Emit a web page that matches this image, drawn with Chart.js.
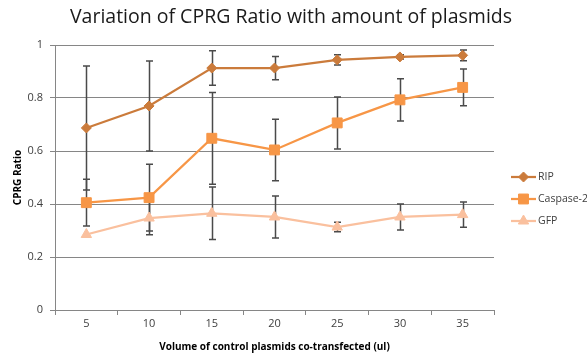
<!DOCTYPE html>
<html>
<head>
<meta charset="utf-8">
<script src="https://cdn.jsdelivr.net/npm/chart.js@4"></script>
<style>
  html, body { margin: 0; padding: 0; background: #fff; }
  #wrap { width: 587px; height: 353px; }
</style>
</head>
<body>
<div id="wrap"><canvas id="chart" width="587" height="353"></canvas></div>
<script>
// categories (volume, ul)
const volumes = ['5', '10', '15', '20', '25', '30', '35'];

// mean CPRG ratio per series
const ripValues = [0.687, 0.770, 0.913, 0.913, 0.944, 0.955, 0.961];
const caspaseValues = [0.405, 0.424, 0.648, 0.604, 0.706, 0.793, 0.840];
const gfpValues = [0.285, 0.347, 0.365, 0.351, 0.313, 0.351, 0.360];

// +/- error per point
const ripErrors = [0.234, 0.170, 0.065, 0.044, 0.019, 0.008, 0.020];
const caspaseErrors = [0.088, 0.126, 0.173, 0.116, 0.098, 0.080, 0.069];
const gfpErrors = [0, 0.063, 0.099, 0.079, 0.018, 0.049, 0.048];

const yTicks = [0, 0.2, 0.4, 0.6, 0.8, 1];

const seriesNames = ['RIP', 'Caspase-2', 'GFP'];
const seriesColors = ['#CB7B3B', '#F79646', '#FAC09E'];
const seriesMarkers = ['rectRot', 'rect', 'triangle'];
const seriesRadius = [5, 7, 6];

const chartTitle = 'Variation of CPRG Ratio with amount of plasmids';
const FONT = "'Open Sans', 'Liberation Sans', sans-serif";
const errorSets = [ripErrors, caspaseErrors, gfpErrors];

// error bars, drawn behind the series
const errorBarPlugin = {
  id: 'errorBars',
  beforeDatasetsDraw(chart) {
    const ctx = chart.ctx;
    const xs = chart.scales.x;
    const ys = chart.scales.y;
    ctx.save();
    ctx.strokeStyle = '#4a4a4a';
    ctx.lineWidth = 1.5;
    chart.data.datasets.forEach((ds, i) => {
      const errs = errorSets[i];
      ds.data.forEach((v, j) => {
        const e = errs[j];
        if (!e) return;
        const x = Math.round(xs.getPixelForValue(j)) + 0.5;
        const top = ys.getPixelForValue(v + e);
        const bot = ys.getPixelForValue(v - e);
        ctx.beginPath();
        ctx.moveTo(x, top); ctx.lineTo(x, bot);
        ctx.moveTo(x - 3.5, top); ctx.lineTo(x + 3.5, top);
        ctx.moveTo(x - 3.5, bot); ctx.lineTo(x + 3.5, bot);
        ctx.stroke();
      });
    });
    ctx.restore();
  }
};

// title centred on the whole canvas, Excel style legend on the right
const decorPlugin = {
  id: 'decor',
  afterDraw(chart) {
    const ctx = chart.ctx;
    ctx.save();
    ctx.fillStyle = '#1a1a1a';
    ctx.font = '19.5px ' + FONT;
    ctx.textAlign = 'center';
    ctx.textBaseline = 'middle';
    ctx.fillText(chartTitle, 291, 17);

    ctx.textAlign = 'left';
    const x0 = 511, x1 = 536;
    seriesNames.forEach((name, i) => {
      const y = 177 + i * 22;
      ctx.strokeStyle = seriesColors[i];
      ctx.lineWidth = 2.25;
      ctx.beginPath();
      ctx.moveTo(x0, y); ctx.lineTo(x1, y);
      ctx.stroke();
      ctx.fillStyle = seriesColors[i];
      ctx.strokeStyle = seriesColors[i];
      ctx.lineWidth = 1;
      Chart.helpers.drawPoint(ctx, {
        pointStyle: seriesMarkers[i],
        radius: seriesRadius[i],
        borderWidth: 1
      }, (x0 + x1) / 2, y);
      ctx.fillStyle = '#404040';
      ctx.font = '10.5px ' + FONT;
      ctx.fillText(name, x1 + 2, y);
    });
    ctx.restore();
  }
};

const datasets = [ripValues, caspaseValues, gfpValues].map((vals, i) => ({
  label: seriesNames[i],
  data: vals,
  borderColor: seriesColors[i],
  backgroundColor: seriesColors[i],
  pointBackgroundColor: seriesColors[i],
  pointBorderColor: seriesColors[i],
  pointStyle: seriesMarkers[i],
  pointRadius: seriesRadius[i],
  pointBorderWidth: 1,
  borderWidth: 2.25,
  tension: 0
}));

new Chart(document.getElementById('chart'), {
  type: 'line',
  data: { labels: volumes, datasets: datasets },
  options: {
    responsive: false,
    animation: false,
    layout: { padding: { left: 12, right: 93, top: 45, bottom: 0 } },
    plugins: {
      legend: { display: false },
      tooltip: { enabled: false },
      title: { display: false }
    },
    scales: {
      x: {
        offset: true,
        grid: {
          offset: true,
          drawOnChartArea: false,
          drawTicks: true,
          tickLength: 5,
          color: '#868686'
        },
        border: { color: '#868686', width: 1 },
        ticks: { color: '#404040', font: { family: FONT, size: 11 }, padding: 2 },
        title: {
          display: true,
          text: 'Volume of control plasmids co-transfected (ul)',
          color: '#000',
          font: { family: FONT, size: 10, weight: 'bold' },
          padding: { top: 3, bottom: 0 }
        },
        afterFit(scale) { scale.height = 43; }
      },
      y: {
        min: 0,
        max: 1,
        afterBuildTicks(scale) { scale.ticks = yTicks.map(v => ({ value: v })); },
        grid: { color: '#868686', tickLength: 5 },
        border: { color: '#868686', width: 1 },
        ticks: {
          color: '#404040',
          font: { family: FONT, size: 11 },
          padding: 7,
          callback: (v) => String(v)
        },
        title: {
          display: true,
          text: 'CPRG Ratio',
          color: '#000',
          font: { family: FONT, size: 10, weight: 'bold' },
          padding: { top: 0, bottom: 4 }
        },
        afterFit(scale) { scale.width = 43; }
      }
    }
  },
  plugins: [errorBarPlugin, decorPlugin]
});
</script>
</body>
</html>
